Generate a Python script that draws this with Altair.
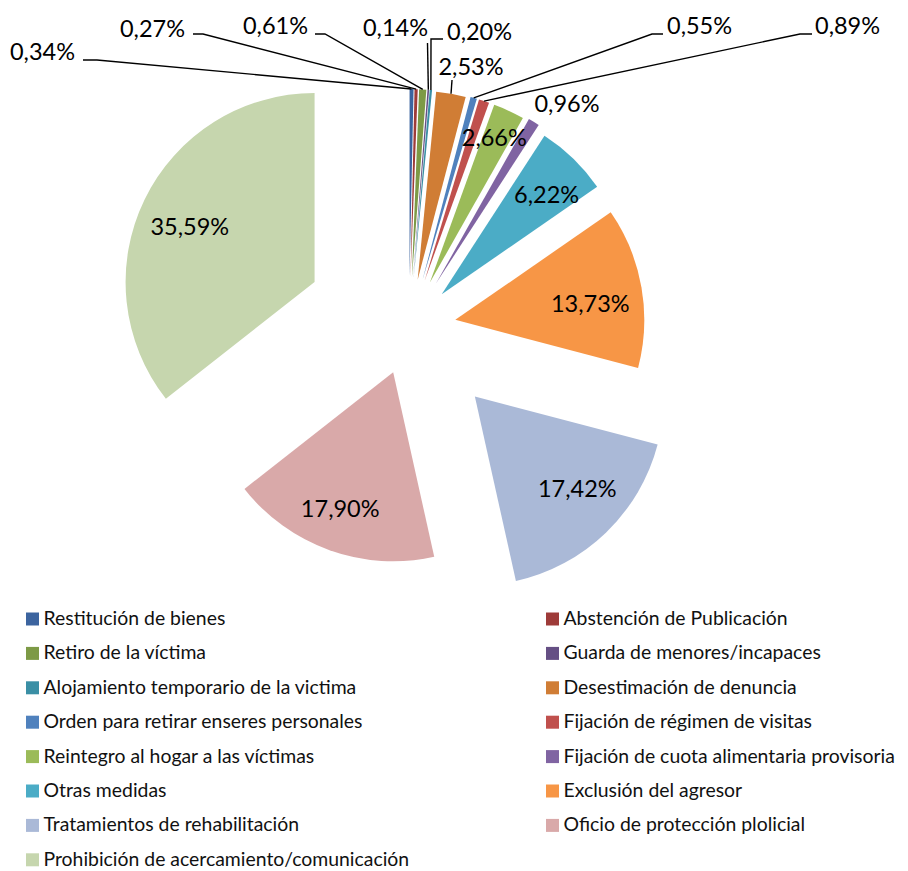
import altair as alt
import pandas as pd

# ---------------- data ----------------
CATS = [
    "Restitución de bienes",
    "Abstención de Publicación",
    "Retiro de la víctima",
    "Guarda de menores/incapaces",
    "Alojamiento temporario de la victima",
    "Desestimación de denuncia",
    "Orden para retirar enseres personales",
    "Fijación de régimen de visitas",
    "Reintegro al hogar a las víctimas",
    "Fijación de cuota alimentaria provisoria",
    "Otras medidas",
    "Exclusión del agresor",
    "Tratamientos de rehabilitación",
    "Oficio de protección plolicial",
    "Prohibición de acercamiento/comunicación",
]
VALUES = [0.34, 0.27, 0.61, 0.14, 0.20, 2.53, 0.55, 0.89, 2.66, 0.96,
          6.22, 13.73, 17.42, 17.90, 35.59]
COLORS = ["#3C649F", "#9E3B39", "#7D9A46", "#654F84", "#3A8FA5", "#D07D35",
          "#4F81BD", "#C0504D", "#9BBB59", "#8064A2", "#4BACC6", "#F79646",
          "#AAB9D7", "#D9A9A9", "#C6D6AE"]

# ---------------- layout (pixels, plot coordinates) ----------------
CX, CY, R = 401, 320, 189
EXPLODE = [50, 50, 50, 50, 50, 49, 50, 50, 50, 52, 47, 47, 95, 47, 105]
# in-slice labels: distance from slice apex and angular nudge (degrees)
LABEL_R = [None, None, None, None, None, None, None, None, 159, None,
           145, 136, 138, 146, 136.5]
LABEL_DA = [0, 0, 0, 0, 0, 0, 0, 0, -0.8, 0, 2.2, 3.0, -4.0, 1.6, -2.0]
# outside labels: category index, text x/y, align, elbow x/y, end x/y (None = no line)
LEAD_IDX = [0, 1, 2, 3, 4, 5, 6, 7, 9]
LEAD_TX = [67, 177, 300, 420, 439, 463, 659, 807, 559]
LEAD_TY = [45, 22, 19, 21, 25, 60, 19, 19, 97]
LEAD_AL = ["right", "right", "right", "right", "left", "center", "left", "left", "center"]
LEAD_EX = [89, 195, 317, 419.5, 423, 444, 644, 792, None]
LEAD_EY = [52, 26, 26, 35, 31, 72, 26, 26, None]
LEAD_LX = [75, 185, 307, 419.5, 435, 444, 655, 804, None]
LEAD_LY = [52, 26, 26, 35, 31, 72, 26, 26, None]

FONT = "Lato"

main = pd.DataFrame({
    "idx": list(range(len(CATS))),
    "cat": CATS,
    "value": VALUES,
    "explode": EXPLODE,
    "labr": LABEL_R,
    "labda": LABEL_DA,
})
lead = pd.DataFrame({
    "cat": [CATS[i] for i in LEAD_IDX],
    "tx": LEAD_TX, "ty": LEAD_TY, "al": LEAD_AL,
    "ex": LEAD_EX, "ey": LEAD_EY, "lx": LEAD_LX, "ly": LEAD_LY,
})

color = alt.Color("cat:N", scale=alt.Scale(domain=CATS, range=COLORS), legend=None)

base = alt.Chart(main).transform_window(
    cum="sum(value)", sort=[alt.SortField("idx")], frame=[None, 0]
).transform_joinaggregate(
    total="sum(value)"
).transform_calculate(
    t0="(datum.cum - datum.value) / datum.total * 2 * PI",
    t1="datum.cum / datum.total * 2 * PI",
).transform_calculate(
    mid="(datum.t0 + datum.t1) / 2",
).transform_calculate(
    ax=f"{CX} + datum.explode * sin(datum.mid)",
    ay=f"{CY} - datum.explode * cos(datum.mid)",
    lang="(datum.t0 + datum.t1) / 2 + datum.labda * PI / 180",
).transform_calculate(
    sx=f"datum.ax + {R} * sin(datum.mid)",
    sy=f"datum.ay - {R} * cos(datum.mid)",
    lx0="datum.ax + datum.labr * sin(datum.lang)",
    ly0="datum.ay - datum.labr * cos(datum.lang) + 1.5",
    txt="replace(format(datum.value, '.2f'), '.', ',') + '%'",
)

arcs = base.mark_arc(radius=R, stroke=None).encode(
    theta=alt.Theta("t0:Q", scale=None, stack=None),
    theta2="t1:Q",
    x=alt.X("ax:Q", scale=None),
    y=alt.Y("ay:Q", scale=None),
    color=color,
)

inner_labels = base.transform_filter("isValid(datum.labr)").mark_text(
    font=FONT, fontSize=23.5, color="black", align="center", baseline="middle"
).encode(
    x=alt.X("lx0:Q", scale=None),
    y=alt.Y("ly0:Q", scale=None),
    text="txt:N",
)

leadbase = base.transform_lookup(
    lookup="cat",
    from_=alt.LookupData(lead, "cat", ["tx", "ty", "al", "ex", "ey", "lx", "ly"]),
).transform_filter("isValid(datum.tx)")

lines = leadbase.transform_filter("isValid(datum.ex)").transform_calculate(
    px="[datum.sx, datum.ex, datum.lx]",
    py="[datum.sy, datum.ey, datum.ly]",
    k="[0, 1, 2]",
).transform_flatten(["px", "py", "k"]).mark_line(
    color="black", strokeWidth=1.4
).encode(
    x=alt.X("px:Q", scale=None),
    y=alt.Y("py:Q", scale=None),
    detail="cat:N",
    order="k:Q",
)

lead_texts = []
for al in ["left", "right", "center"]:
    lead_texts.append(
        leadbase.transform_filter(f"datum.al == '{al}'").mark_text(
            font=FONT, fontSize=23.5, color="black", align=al, baseline="middle"
        ).encode(
            x=alt.X("tx:Q", scale=None),
            y=alt.Y("ty:Q", scale=None),
            text="txt:N",
        )
    )

legbase = alt.Chart(main).transform_calculate(
    row="floor(datum.idx / 2)",
    col="datum.idx % 2",
).transform_calculate(
    gx="24.5 + datum.col * 520",
    gy="611 + datum.row * 34.4",
)
leg_sym = legbase.mark_square(size=169, opacity=1).encode(
    x=alt.X("gx:Q", scale=None),
    y=alt.Y("gy:Q", scale=None),
    color=color,
)
leg_txt = legbase.mark_text(
    font=FONT, fontSize=19.4, color="#111111", align="left", baseline="middle", dx=11
).encode(
    x=alt.X("gx:Q", scale=None),
    y=alt.Y("gy:Q", scale=None),
    text="cat:N",
)

chart = alt.layer(arcs, inner_labels, lines, *lead_texts, leg_sym, leg_txt).properties(
    width=892, height=863, padding=0,
    autosize=alt.AutoSizeParams(type="none"),
).configure_view(stroke=None)

chart.save("out.html", embed_options={"renderer": "svg", "actions": False})
